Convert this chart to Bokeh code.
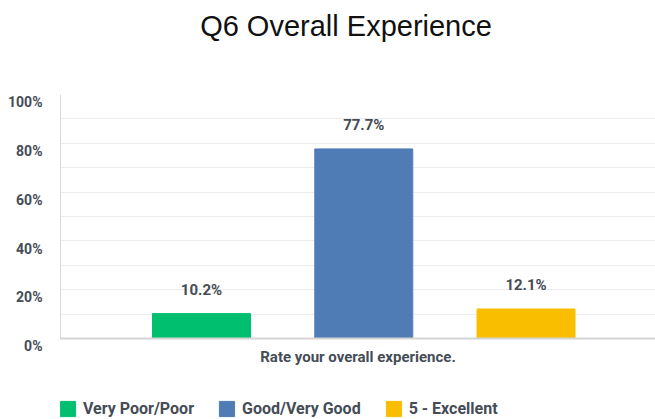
from bokeh.plotting import figure
from bokeh.layouts import column
from bokeh.models import (ColumnDataSource, LabelSet, Label, Range1d, FixedTicker,
                          Legend, LegendItem, CustomJSTickFormatter)
from bokeh.core.properties import value
from bokeh.embed import file_html
from bokeh.resources import INLINE

# ---- data ----
categories = ["Very Poor/Poor", "Good/Very Good", "5 - Excellent"]
values = [10.2, 77.7, 12.1]
colors = ["#00bf6f", "#507cb6", "#f9be00"]
y_ticks = [0, 20, 40, 60, 80, 100]
grid_ticks = [10, 20, 30, 40, 50, 60, 70, 80, 90]
title_text = "Q6 Overall Experience"
x_label = "Rate your overall experience."

TEXT = "#454c56"
FONT = "Roboto"
W = 655
LEFT = 60  # shared frame left border (px)

xs = [i + 1 for i in range(len(categories))]
labels = [f"{v:.1f}%" for v in values]
src = ColumnDataSource(dict(x=xs, top=values, color=colors, label=labels, cat=categories))

# ---- header with title (frame shares left border with chart) ----
head = figure(width=W, height=60, output_backend="svg", toolbar_location=None,
              x_range=Range1d(LEFT, W), y_range=Range1d(0, 60),
              x_axis_type=None, y_axis_type=None,
              min_border_left=LEFT, min_border_right=0, min_border_top=0, min_border_bottom=0)
head.outline_line_color = None
head.grid.grid_line_color = None
head.add_layout(Label(x=345.5, y=35, text=title_text, text_align="center",
                      text_baseline="middle", text_font="Liberation Sans",
                      text_font_size="29px", text_color="#111111"))

# ---- main chart ----
p = figure(width=W, height=335, output_backend="svg", toolbar_location=None,
           x_range=Range1d(0.131, 3.798), y_range=Range1d(0, 100),
           min_border_left=LEFT, min_border_right=0, min_border_top=34, min_border_bottom=57)
p.outline_line_color = None

renderers = []
for i in range(len(categories)):
    s = ColumnDataSource(dict(x=[xs[i]], top=[values[i]]))
    r = p.vbar(x="x", top="top", width=0.604, source=s, fill_color=colors[i],
               line_color=colors[i])
    renderers.append(r)

lbl = LabelSet(x="x", y="top", text="label", source=src, text_align="center",
               text_baseline="middle", y_offset=24, text_font=value(FONT),
               text_font_style="bold", text_font_size="15px", text_color=TEXT)
p.add_layout(lbl)

p.xaxis.ticker = FixedTicker(ticks=[])
p.xaxis.major_tick_line_color = None
p.xaxis.minor_tick_line_color = None
p.xaxis.axis_line_color = "#d4d4d4"
p.xaxis.axis_line_width = 2
p.xaxis.axis_label = x_label
p.xaxis.axis_label_text_font = FONT
p.xaxis.axis_label_text_font_style = "bold"
p.xaxis.axis_label_text_font_size = "15px"
p.xaxis.axis_label_text_color = TEXT
p.xaxis.axis_label_standoff = 9

p.yaxis.ticker = FixedTicker(ticks=y_ticks)
p.yaxis.formatter = CustomJSTickFormatter(code="return '\\n' + tick + '%';")
p.yaxis.major_tick_line_color = None
p.yaxis.minor_tick_line_color = None
p.yaxis.axis_line_color = "#d9d9d9"
p.yaxis.major_label_text_font = FONT
p.yaxis.major_label_text_font_style = "bold"
p.yaxis.major_label_text_font_size = "14px"
p.yaxis.major_label_text_line_height = 0.95
p.yaxis.major_label_text_color = TEXT
p.yaxis.major_label_standoff = 12

p.xgrid.grid_line_color = None
p.ygrid.ticker = FixedTicker(ticks=grid_ticks)
p.ygrid.grid_line_color = "#ececec"
p.ygrid.grid_line_width = 1

# ---- legend strip (bars kept out of view; only the legend shows) ----
leg = figure(width=W, height=24, output_backend="svg", toolbar_location=None,
             x_range=Range1d(0.131, 3.798), y_range=Range1d(1000, 1001),
             x_axis_type=None, y_axis_type=None,
             min_border_left=LEFT, min_border_right=0, min_border_top=0, min_border_bottom=0)
leg.outline_line_color = None
leg.grid.grid_line_color = None
leg_renderers = []
for i in range(len(categories)):
    s = ColumnDataSource(dict(x=[xs[i]], top=[values[i]]))
    leg_renderers.append(leg.vbar(x="x", top="top", width=0.604, source=s,
                                  fill_color=colors[i], line_color=colors[i]))
legend = Legend(items=[LegendItem(label=c, renderers=[r]) for c, r in zip(categories, leg_renderers)],
                orientation="horizontal", location=(-2, 1),
                glyph_width=19, glyph_height=19, label_standoff=6, spacing=23,
                padding=0, margin=0, border_line_color=None, background_fill_alpha=0,
                label_text_font=FONT, label_text_font_style="bold",
                label_text_font_size="16px", label_text_color=TEXT)
leg.add_layout(legend)

layout = column(head, p, leg, spacing=0)
open("out.html", "w").write(file_html(layout, INLINE))
